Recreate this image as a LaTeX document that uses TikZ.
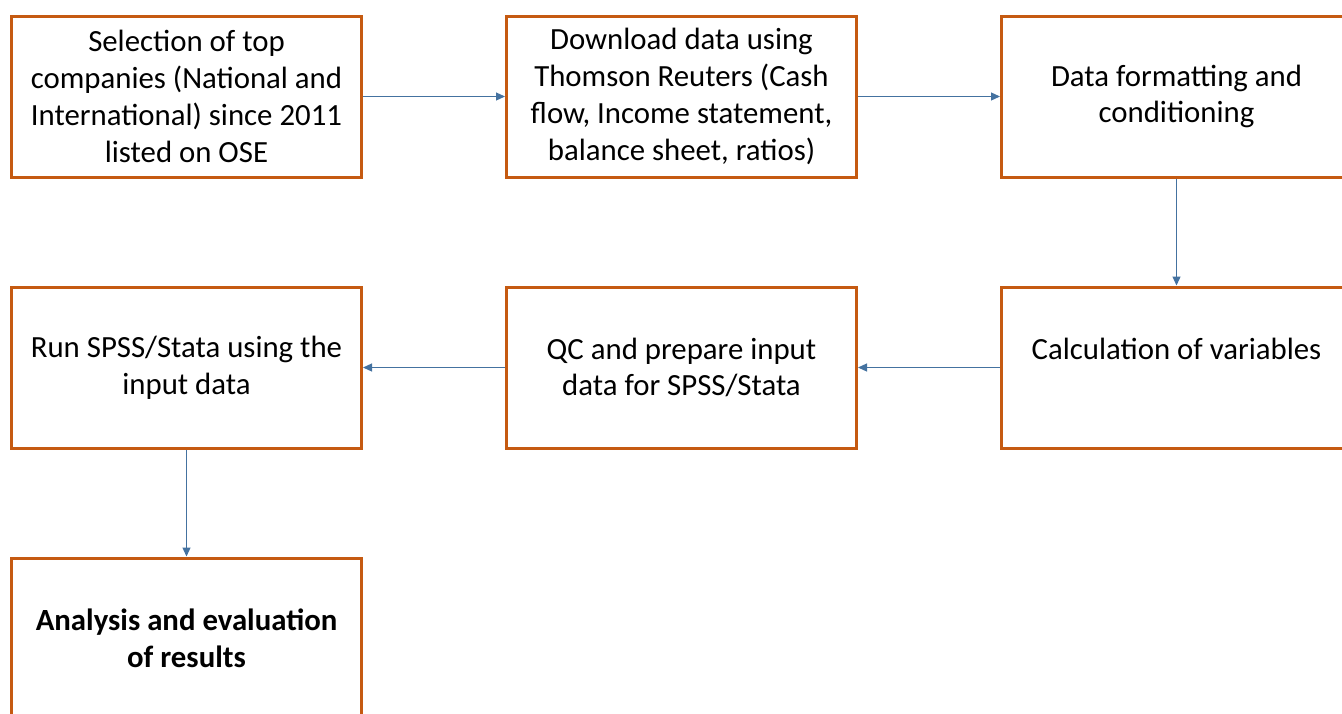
\documentclass[tikz,border=0pt]{standalone}
\usepackage{fontspec}
\setmainfont{Carlito}
\usetikzlibrary{positioning,arrows.meta}
\definecolor{boxorange}{RGB}{197,90,17}
\definecolor{flowblue}{RGB}{68,114,160}

\begin{document}
\begin{tikzpicture}[x=1pt,y=-1pt,
    stepbox/.style={draw=boxorange, line width=3pt, minimum width=350pt, minimum height=161pt,
      align=center, inner sep=0pt, font=\fontsize{30.8}{36.8}\selectfont},
    flow/.style={draw=flowblue, line width=1.2pt, -{Triangle[length=9pt,width=8pt]}}]
  \useasboundingbox (0,0) rectangle (1342,713);
  \clip (0,0) rectangle (1342,713);
  % first row
  \node[stepbox] (select) at (186.5,96.5) {Selection of top\\companies (National and\\International) since 2011\\listed on OSE};
  \node[stepbox, right=142pt of select] (download) {Download data using\\Thomson Reuters (Cash\\flow, Income statement,\\balance sheet, ratios)};
  \node[stepbox, right=142pt of download] (format) {Data formatting and\\conditioning};
  % second row
  \node[stepbox, below=107pt of format] (calc) {Calculation of variables\\\mbox{}};
  \node[stepbox, left=142pt of calc] (qc) {QC and prepare input\\data for SPSS/Stata};
  \node[stepbox, left=142pt of qc] (run) {Run SPSS/Stata using the\\input data};
  % last step
  \node[stepbox, below=107pt of run, font=\fontsize{30.8}{36.8}\selectfont\bfseries] (analysis) {Analysis and evaluation\\of results};
  \draw[flow] (select) -- (download);
  \draw[flow] (download) -- (format);
  \draw[flow] (format) -- (calc);
  \draw[flow] (calc) -- (qc);
  \draw[flow] (qc) -- (run);
  \draw[flow] (run) -- (analysis);
\end{tikzpicture}
\end{document}
